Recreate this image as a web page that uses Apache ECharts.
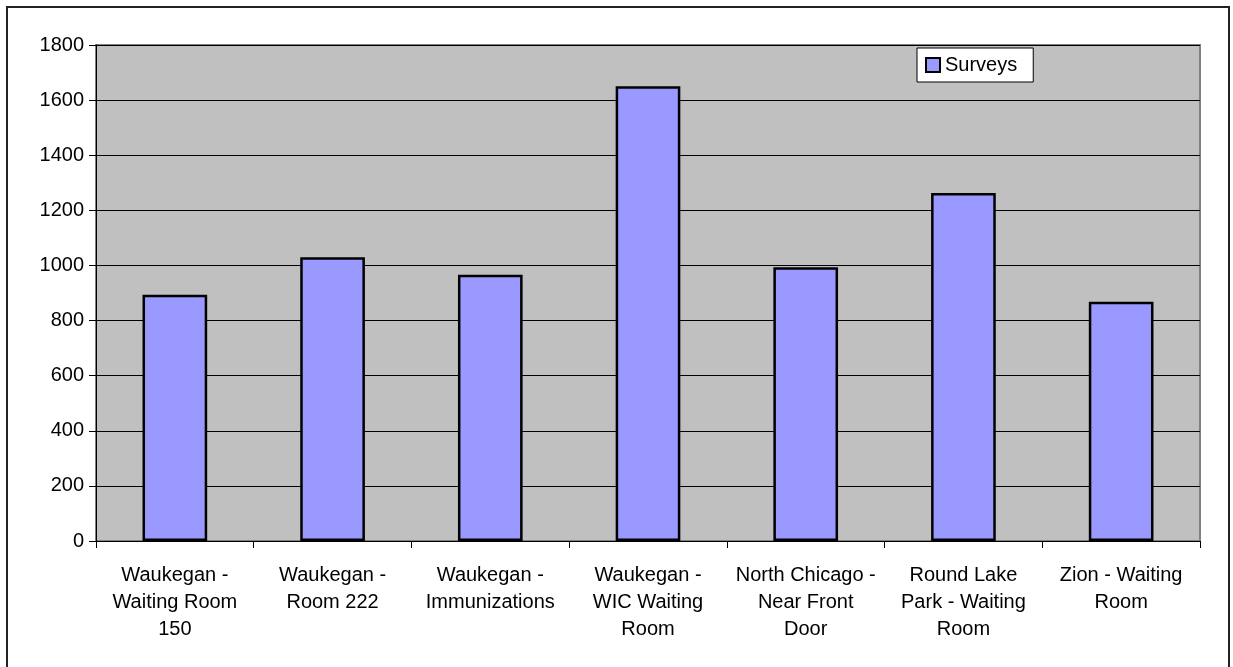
<!DOCTYPE html>
<html>
<head>
<meta charset="utf-8">
<script src="https://cdn.jsdelivr.net/npm/echarts@6/dist/echarts.min.js"></script>
<style>
  html, body { margin: 0; padding: 0; width: 1233px; height: 667px; overflow: hidden; background: #fff; }
  #frame { position: absolute; left: 6px; top: 6px; width: 1224px; height: 720px; border: 2px solid #222; box-sizing: border-box; }
  #chart { position: absolute; left: 0; top: 0; width: 1233px; height: 667px; }
</style>
</head>
<body>
<div id="frame"></div>
<div id="chart"></div>
<script>
// Survey counts per collection site
const categories = [
  'Waukegan -\nWaiting Room\n150',
  'Waukegan -\nRoom 222',
  'Waukegan -\nImmunizations',
  'Waukegan -\nWIC Waiting\nRoom',
  'North Chicago -\nNear Front\nDoor',
  'Round Lake\nPark - Waiting\nRoom',
  'Zion - Waiting\nRoom'
];
const surveys = [894, 1030, 966, 1650, 993, 1263, 868];
const seriesName = 'Surveys';

const chart = echarts.init(document.getElementById('chart'), null, { renderer: 'canvas' });
const font = 'Arial, "Liberation Sans", sans-serif';

chart.setOption({
  animation: false,
  legend: {
    data: [seriesName],
    icon: 'rect',
    left: 917,
    top: 48,
    padding: [7, 16, 7, 8],
    itemWidth: 14,
    itemHeight: 14,
    itemGap: 4,
    backgroundColor: '#fff',
    borderColor: '#000',
    borderWidth: 1,
    itemStyle: { borderColor: '#000', borderWidth: 2 },
    textStyle: { fontFamily: font, fontSize: 20, color: '#000' }
  },
  grid: {
    left: 96, right: 33, top: 45, bottom: 126,
    show: true,
    backgroundColor: '#c0c0c0',
    borderColor: '#808080',
    borderWidth: 2
  },
  xAxis: {
    type: 'category',
    data: categories,
    axisLine: { lineStyle: { color: '#000', width: 1 } },
    axisTick: { show: true, length: 7, lineStyle: { color: '#000' } },
    axisLabel: {
      interval: 0,
      margin: 21,
      fontFamily: font,
      fontSize: 20,
      lineHeight: 27,
      color: '#000',
      align: 'center'
    }
  },
  yAxis: {
    type: 'value',
    min: 0,
    max: 1800,
    interval: 200,
    axisLine: { show: true, lineStyle: { color: '#000', width: 1 } },
    axisTick: { show: true, length: 7, lineStyle: { color: '#000' } },
    splitLine: { show: true, lineStyle: { color: '#000', width: 1 } },
    axisLabel: { fontFamily: font, fontSize: 20, color: '#000', margin: 12, formatter: v => String(v) }
  },
  series: [{
    name: seriesName,
    type: 'bar',
    data: surveys,
    barCategoryGap: '59%',
    itemStyle: { color: '#9999ff', borderColor: '#000', borderWidth: 2.5 }
  }]
});
</script>
</body>
</html>
